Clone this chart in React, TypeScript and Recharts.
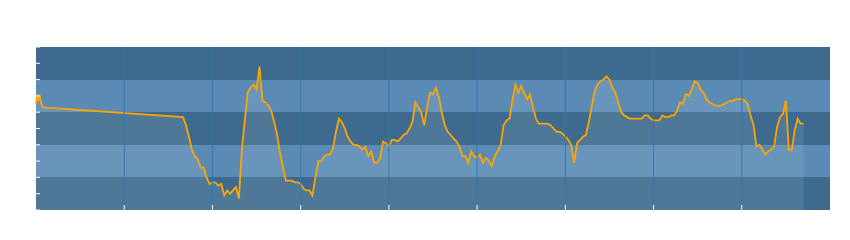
import { AreaChart, Area, XAxis, YAxis, CartesianGrid, ReferenceLine } from 'recharts'

// sparse readings at the very start of the record
const headX = [0, 0.3, 0.7, 1, 1.4, 1.7, 2.4]
const headY = [65, 69, 71, 67, 69, 66, 63]

// continuous readings, one per unit starting at x = 50
const seriesStart = 50
const seriesValues = [
    57, 52, 45, 37, 33, 31, 26, 26, 20, 16,
    17, 17, 15, 16, 9, 12, 10, 12, 14, 7,
    37, 55, 72, 75, 77, 74, 88, 67, 66, 64,
    61, 54, 46, 35, 26, 18, 18, 18, 17, 17,
    16, 13, 12, 12, 9, 20, 30, 30, 33, 34,
    34, 38, 48, 56, 54, 50, 45, 42, 40, 40,
    39, 37, 39, 33, 36, 29, 29, 32, 42, 41,
    39, 43, 43, 42, 44, 46, 47, 50, 54, 66,
    63, 60, 52, 63, 72, 71, 75, 69, 60, 52,
    48, 46, 44, 42, 39, 33, 33, 29, 36, 33,
    32, 34, 29, 32, 30, 27, 33, 36, 40, 52,
    55, 56, 67, 77, 72, 76, 72, 68, 71, 63,
    56, 53, 53, 53, 53, 52, 50, 48, 48, 47,
    45, 43, 40, 29, 41, 43, 45, 46, 54, 64,
    73, 77, 79, 80, 82, 80, 75, 72, 66, 60,
    58, 57, 56, 56, 56, 56, 56, 58, 58, 56,
    55, 55, 55, 58, 57, 57, 58, 58, 61, 66,
    65, 71, 70, 74, 79, 78, 74, 72, 68, 66,
    65, 64, 64, 64, 65, 66, 67, 67, 68, 68,
    68, 67, 65, 58, 52, 39, 40, 37, 34, 36,
    37, 39, 51, 57, 59, 67, 37, 37, 49, 56,
    53, 53,
]

const xTicks = [30, 60, 90, 120, 150, 180, 210, 240]
const yTicks = [0, 10, 20, 30, 40, 50, 60, 70, 80, 90, 100]

// one stripe per y tick, top first: two dark, two light
const bandFills = ['#3d6a8e', '#3d6a8e', '#5b8bb5', '#5b8bb5']

const data = [
    ...headX.map((x, i) => ({ x, value: headY[i] })),
    ...seriesValues.map((value, i) => ({ x: seriesStart + i, value })),
]

// tick marks only, the labels are not shown
const noLabel = () => <g />

export default function App() {
    return (
        <div style={{ position: 'absolute', left: 0, top: 0, width: 850, height: 240, background: '#fff' }}>
            <AreaChart
                width={850}
                height={240}
                data={data}
                margin={{ top: 47, right: 20, left: 0, bottom: 0 }}
            >
                <CartesianGrid
                    horizontal={true}
                    vertical={false}
                    stroke="none"
                    horizontalFill={bandFills}
                    fillOpacity={1}
                />
                {xTicks.map((t) => (
                    <ReferenceLine key={t} x={t} stroke="#2f78ad" strokeWidth={1} />
                ))}
                <XAxis
                    type="number"
                    dataKey="x"
                    domain={[0, 270]}
                    ticks={xTicks}
                    interval={0}
                    height={30}
                    axisLine={false}
                    tick={noLabel}
                    tickSize={-5}
                    tickLine={{ stroke: '#ffffff', strokeWidth: 1 }}
                />
                <YAxis
                    type="number"
                    domain={[0, 100]}
                    ticks={yTicks}
                    interval={0}
                    width={36}
                    axisLine={false}
                    tick={noLabel}
                    tickSize={-4}
                    tickLine={{ stroke: '#ffffff', strokeWidth: 1 }}
                />
                <Area
                    type="linear"
                    dataKey="value"
                    stroke="#ffa500"
                    strokeWidth={1.8}
                    fill="#ffffff"
                    fillOpacity={0.09}
                    dot={false}
                    activeDot={false}
                    isAnimationActive={false}
                />
            </AreaChart>
        </div>
    )
}
